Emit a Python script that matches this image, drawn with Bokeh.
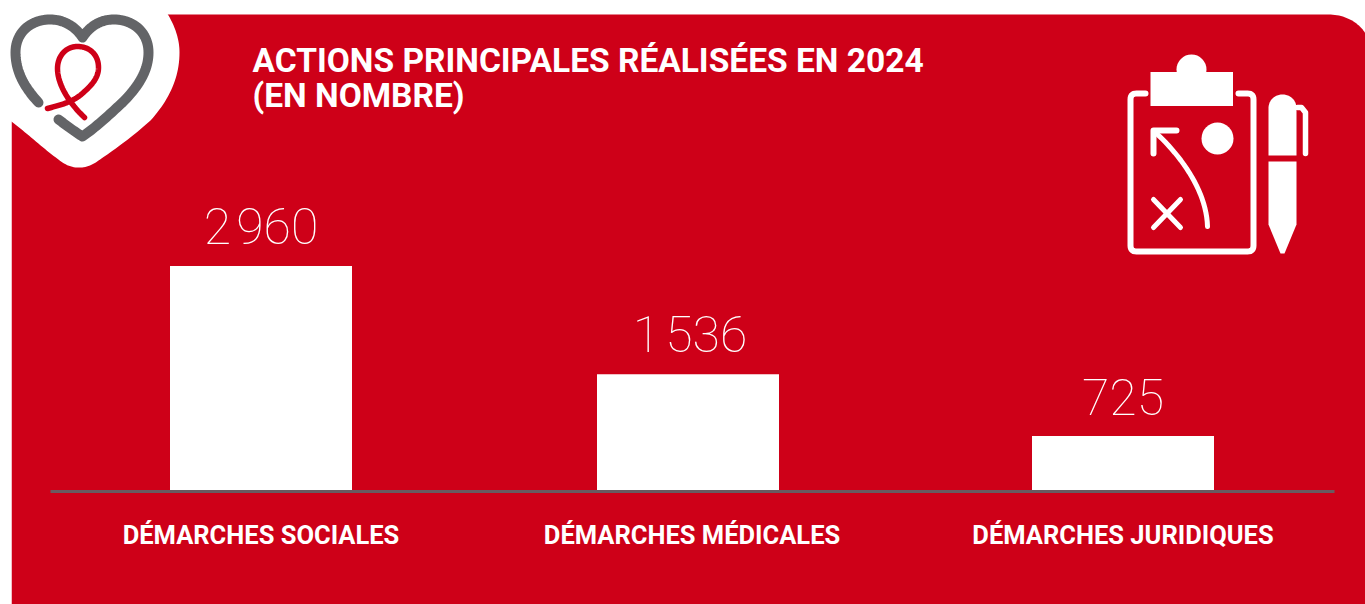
import numpy as np
from bokeh.embed import file_html
from bokeh.resources import INLINE
from bokeh.plotting import figure
from bokeh.models import Range1d, LinearAxis, FixedTicker
from bokeh.core.properties import value

CATEGORIES = ["DÉMARCHES SOCIALES", "DÉMARCHES MÉDICALES", "DÉMARCHES JURIDIQUES"]
VALUES = [2960, 1536, 725]
VALUE_LABELS = ["2\u200a960", "1\u200a536", "725"]
TITLE_LINES = ["ACTIONS PRINCIPALES RÉALISÉES EN 2024", "(EN NOMBRE)"]

RED, GRAY, WHITE = "#CE0018", "#636467", "#FFFFFF"
W, H = 1365, 604
BASE, X0, STEP = 490.5, 260.5, 431
PX_PER_UNIT = 225 / 2960
BAR_NUDGE = np.array([0, -4, 0]) / STEP
LABEL_NUDGE = np.array([0, -2, 0]) / STEP
LABEL_GAP = 39 / PX_PER_UNIT

p = figure(width=W, height=H, output_backend="svg", toolbar_location=None,
           x_range=Range1d(-X0 / STEP, (W - X0) / STEP),
           y_range=Range1d(-(H - BASE) / PX_PER_UNIT, BASE / PX_PER_UNIT),
           min_border=0, x_axis_location=None, y_axis_location=None,
           background_fill_color=WHITE, border_fill_color=WHITE, outline_line_color=None)
p.grid.visible = False
p.extra_x_ranges["px"] = Range1d(0, W)
p.extra_y_ranges["px"] = Range1d(H, 0)
PX = dict(x_range_name="px", y_range_name="px")


def bez(*pts, n=24):
    """Sample a chain of cubic beziers given as P0,C1,C2,P1,C1,C2,P2..."""
    xs, ys = [], []
    for i in range(0, len(pts) - 1, 3):
        a, b, c, d = [np.array(q, float) for q in pts[i:i + 4]]
        t = np.linspace(0, 1, n)[:, None]
        q = (1 - t) ** 3 * a + 3 * (1 - t) ** 2 * t * b + 3 * (1 - t) * t ** 2 * c + t ** 3 * d
        xs += list(q[:, 0]); ys += list(q[:, 1])
    return xs, ys


# red panel with rounded top-right corner
cx, cy = bez((1328, 14), (1345, 14), (1358, 22), (1365, 33))
p.patch([11] + cx + [W, 11], [14] + cy + [H, H], color=RED, line_color=None, **PX)

# white heart blob behind the logo
bx, by = bez((165, 10), (174, 24), (179, 38), (179, 52),
             (179, 78), (168, 100), (150, 120),
             (130, 138), (110, 152), (98, 160),
             (88, 168), (74, 170), (62, 162),
             (45, 150), (28, 134), (11, 121))
p.patch([0, 0] + bx, [121, 0] + by, color=WHITE, line_color=None, **PX)
p.quad(left=0, right=11, top=0, bottom=H, color=WHITE, line_color=None, **PX)

# heart outline
hx, hy = bez((38, 102), (25, 88), (15, 72), (15, 52),
             (15, 32), (30, 19), (50, 19),
             (63, 19), (75, 26), (82, 37),
             (89, 26), (100, 19), (113, 19),
             (133, 19), (148, 32), (148, 52),
             (148, 70), (138, 86), (122, 102),
             (108, 115), (95, 127), (82, 136),
             (74, 131), (66, 125), (58, 119))
p.line(hx, hy, line_color=GRAY, line_width=10, line_cap="round", line_join="round", **PX)

# ribbon
rx, ry = bez((47, 108), (62, 104), (74, 101), (84, 91),
             (93, 83), (98, 76), (98, 67),
             (98, 54), (89, 46), (77, 46),
             (65, 46), (57, 56), (57, 68),
             (57, 82), (66, 100), (84, 117))
p.line(rx, ry, line_color=RED, line_width=5.5, line_cap="round", line_join="round", **PX)

# clipboard icon
ow = dict(line_color=WHITE, line_cap="round", line_join="round", **PX)
kx, ky = bez((1145, 93), (1140, 93), (1136, 93), (1136, 93),
             (1132, 93), (1130, 95), (1130, 99),
             (1130, 150), (1130, 200), (1130, 245),
             (1130, 249), (1132, 251), (1136, 251),
             (1170, 251), (1210, 251), (1247, 251),
             (1251, 251), (1253, 249), (1253, 245),
             (1253, 200), (1253, 150), (1253, 99),
             (1253, 95), (1251, 93), (1247, 93),
             (1245, 93), (1242, 93), (1238, 93), n=8)
p.line(kx, ky, line_width=6, **ow)
p.quad(left=1150, right=1232.5, top=71.5, bottom=105.5, color=WHITE, line_color=None, **PX)
p.circle(x=[1191], y=[69], radius=15, color=WHITE, line_color=None, **PX)
p.circle(x=[1217], y=[138], radius=16, color=WHITE, line_color=None, **PX)
p.line([1176, 1153, 1153], [130, 130, 153], line_width=6, **ow)
ax, ay = bez((1155, 132), (1180, 155), (1206, 190), (1207, 226))
p.line(ax, ay, line_width=5, **ow)
p.line([1153, 1180], [199, 227], line_width=5, **ow)
p.line([1180, 1153], [199, 227], line_width=5, **ow)

# pen
px_, py_ = bez((1268, 155), (1268, 130), (1268, 115), (1268, 108),
               (1268, 99), (1275, 94), (1282, 94),
               (1289, 94), (1296, 99), (1296, 108),
               (1296, 120), (1296, 140), (1296, 155))
p.patch(px_, py_, color=WHITE, line_color=None, **PX)
p.patch([1268, 1296, 1296, 1284, 1280, 1268], [161, 161, 224, 253, 253, 224], color=WHITE, line_color=None, **PX)
p.line([1297, 1301, 1305, 1305], [107, 107, 112, 153], line_width=5.5, **ow)

# bars and baseline
xs = np.arange(len(VALUES))
p.vbar(x=xs + BAR_NUDGE, top=VALUES, bottom=0, width=182 / STEP, color=WHITE, line_color=None)
p.line([50, 1334], [491, 491], line_color="#6A5A60", line_width=3, **PX)

# value labels
p.text(x=xs + LABEL_NUDGE, y=np.array(VALUES) + LABEL_GAP, text=VALUE_LABELS, text_font=value("Roboto Thin"),
       text_font_size="50px", text_color=WHITE, text_align="center", text_baseline="alphabetic")

# category axis
axis = LinearAxis(fixed_location=0, ticker=FixedTicker(ticks=list(range(len(CATEGORIES)))),
                  major_label_overrides={i: c for i, c in enumerate(CATEGORIES)})
axis.axis_line_color = None
axis.major_tick_line_color = None
axis.minor_tick_line_color = None
axis.major_label_standoff = 23
axis.major_label_text_font = "Roboto"
axis.major_label_text_font_style = "bold"
axis.major_label_text_font_size = "25.5px"
axis.major_label_text_color = WHITE
p.add_layout(axis, "below")

# title
p.text(x=[252, 252], y=[60, 95], text=TITLE_LINES, text_font=value("Roboto"), text_font_style="bold",
       text_font_size="33.5px", text_color=WHITE, text_align="left", text_baseline="alphabetic", **PX)

open("out.html", "w").write(file_html(p, INLINE))
